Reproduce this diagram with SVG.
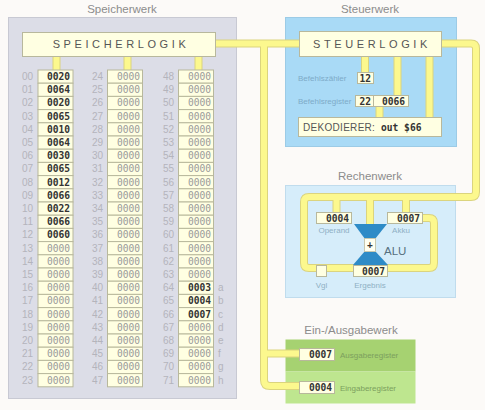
<svg xmlns="http://www.w3.org/2000/svg" xmlns:xlink="http://www.w3.org/1999/xlink" width="485" height="410" viewBox="0 0 485 410">
<style>
.title{font-family:"Liberation Sans",Arial,sans-serif;font-size:11.5px;fill:#8c8c8c;text-anchor:middle}
.logic{font-family:"Liberation Sans",Arial,sans-serif;font-size:11px;fill:#555;letter-spacing:3.6px;text-anchor:middle}
.box{fill:#ffffe2;stroke:#b8b89c;stroke-width:1}
.a{font-family:"Liberation Sans",Arial,sans-serif;font-size:10px;fill:#b4b4bc;text-anchor:end}
.l{font-family:"Liberation Sans",Arial,sans-serif;font-size:10px;fill:#b4b4bc}
.v{font-family:"DejaVu Sans Mono","Liberation Mono",monospace;font-size:9.6px;fill:#9a9a9a;text-anchor:end}
.b{fill:#333;font-weight:bold}
.m{font-family:"DejaVu Sans Mono","Liberation Mono",monospace;font-size:9.6px;fill:#333;font-weight:bold;text-anchor:end}
.sl{font-family:"Liberation Sans",Arial,sans-serif;font-size:8px;fill:#7eaac8}
.rl{font-family:"Liberation Sans",Arial,sans-serif;font-size:8px;fill:#8fb0c4;text-anchor:middle}
.gl{font-family:"Liberation Sans",Arial,sans-serif;font-size:8px;fill:#7c9f5e}
.po{fill:none;stroke:#dbd47e;stroke-width:8;stroke-linejoin:round}
.pi{fill:none;stroke:#fcf88e;stroke-width:6;stroke-linejoin:round}
</style>
<defs>
<g id="pipes">
<path d="M216 43.5H299"/>
<path d="M264 43.5V380Q264 386 270 386H299M264 353.5H299"/>
<path d="M442 43.5H471Q476 43.5 476 48.5V192Q476 197 471 197H309Q304 197 304 202V263Q304 268 309 268H429Q434 268 434 263V223Q434 218 429 218H423"/>
<path d="M336.5 197V212M370 197V240M406 197V212"/>
<path d="M56.5 57V70M127.5 57V70M198.5 57V70"/>
<path d="M365 57V72M397.5 57V95M379.5 106V117M429.5 57V117"/>
</g>
</defs>
<rect width="485" height="410" fill="#fcfaf8"/>
<g id="panels">
<rect x="8.5" y="17.5" width="228" height="381" fill="#dcdde7" stroke="#c8c9d3"/>
<rect x="285.5" y="17.5" width="171" height="129" fill="#a9daf6" stroke="#9ccbe6"/>
<rect x="285.5" y="185.5" width="170" height="112" fill="#d6edfa" stroke="#c0dced"/>
<rect x="285.5" y="339.5" width="130" height="32" fill="#a6d271"/>
<rect x="285.5" y="371.5" width="130" height="32" fill="#bee68f"/>
<text class="title" x="122" y="13">Speicherwerk</text>
<text class="title" x="370" y="13">Steuerwerk</text>
<text class="title" x="370" y="180">Rechenwerk</text>
<text class="title" x="351" y="334">Ein-/Ausgabewerk</text>
</g>
<g id="connectors">
<use xlink:href="#pipes" class="po"/>
<use xlink:href="#pipes" class="pi"/>
</g>
<g id="speicherlogik">
<rect class="box" x="22.5" y="32.5" width="193" height="24"/>
<text class="logic" x="121" y="48">SPEICHERLOGIK</text>
</g>
<g id="speicher">
<g transform="translate(0,70)"><text class="a" x="33" y="10">00</text><rect class="box" x="38" width="35" height="13.2"/><text class="v b" x="70" y="10">0020</text><text class="a" x="103" y="10">24</text><rect class="box" x="107.5" width="35" height="13.2"/><text class="v" x="140" y="10">0000</text><text class="a" x="174" y="10">48</text><rect class="box" x="178.5" width="35" height="13.2"/><text class="v" x="211" y="10">0000</text></g>
<g transform="translate(0,83.2)"><text class="a" x="33" y="10">01</text><rect class="box" x="38" width="35" height="13.2"/><text class="v b" x="70" y="10">0064</text><text class="a" x="103" y="10">25</text><rect class="box" x="107.5" width="35" height="13.2"/><text class="v" x="140" y="10">0000</text><text class="a" x="174" y="10">49</text><rect class="box" x="178.5" width="35" height="13.2"/><text class="v" x="211" y="10">0000</text></g>
<g transform="translate(0,96.4)"><text class="a" x="33" y="10">02</text><rect class="box" x="38" width="35" height="13.2"/><text class="v b" x="70" y="10">0020</text><text class="a" x="103" y="10">26</text><rect class="box" x="107.5" width="35" height="13.2"/><text class="v" x="140" y="10">0000</text><text class="a" x="174" y="10">50</text><rect class="box" x="178.5" width="35" height="13.2"/><text class="v" x="211" y="10">0000</text></g>
<g transform="translate(0,109.6)"><text class="a" x="33" y="10">03</text><rect class="box" x="38" width="35" height="13.2"/><text class="v b" x="70" y="10">0065</text><text class="a" x="103" y="10">27</text><rect class="box" x="107.5" width="35" height="13.2"/><text class="v" x="140" y="10">0000</text><text class="a" x="174" y="10">51</text><rect class="box" x="178.5" width="35" height="13.2"/><text class="v" x="211" y="10">0000</text></g>
<g transform="translate(0,122.8)"><text class="a" x="33" y="10">04</text><rect class="box" x="38" width="35" height="13.2"/><text class="v b" x="70" y="10">0010</text><text class="a" x="103" y="10">28</text><rect class="box" x="107.5" width="35" height="13.2"/><text class="v" x="140" y="10">0000</text><text class="a" x="174" y="10">52</text><rect class="box" x="178.5" width="35" height="13.2"/><text class="v" x="211" y="10">0000</text></g>
<g transform="translate(0,136)"><text class="a" x="33" y="10">05</text><rect class="box" x="38" width="35" height="13.2"/><text class="v b" x="70" y="10">0064</text><text class="a" x="103" y="10">29</text><rect class="box" x="107.5" width="35" height="13.2"/><text class="v" x="140" y="10">0000</text><text class="a" x="174" y="10">53</text><rect class="box" x="178.5" width="35" height="13.2"/><text class="v" x="211" y="10">0000</text></g>
<g transform="translate(0,149.2)"><text class="a" x="33" y="10">06</text><rect class="box" x="38" width="35" height="13.2"/><text class="v b" x="70" y="10">0030</text><text class="a" x="103" y="10">30</text><rect class="box" x="107.5" width="35" height="13.2"/><text class="v" x="140" y="10">0000</text><text class="a" x="174" y="10">54</text><rect class="box" x="178.5" width="35" height="13.2"/><text class="v" x="211" y="10">0000</text></g>
<g transform="translate(0,162.4)"><text class="a" x="33" y="10">07</text><rect class="box" x="38" width="35" height="13.2"/><text class="v b" x="70" y="10">0065</text><text class="a" x="103" y="10">31</text><rect class="box" x="107.5" width="35" height="13.2"/><text class="v" x="140" y="10">0000</text><text class="a" x="174" y="10">55</text><rect class="box" x="178.5" width="35" height="13.2"/><text class="v" x="211" y="10">0000</text></g>
<g transform="translate(0,175.6)"><text class="a" x="33" y="10">08</text><rect class="box" x="38" width="35" height="13.2"/><text class="v b" x="70" y="10">0012</text><text class="a" x="103" y="10">32</text><rect class="box" x="107.5" width="35" height="13.2"/><text class="v" x="140" y="10">0000</text><text class="a" x="174" y="10">56</text><rect class="box" x="178.5" width="35" height="13.2"/><text class="v" x="211" y="10">0000</text></g>
<g transform="translate(0,188.8)"><text class="a" x="33" y="10">09</text><rect class="box" x="38" width="35" height="13.2"/><text class="v b" x="70" y="10">0066</text><text class="a" x="103" y="10">33</text><rect class="box" x="107.5" width="35" height="13.2"/><text class="v" x="140" y="10">0000</text><text class="a" x="174" y="10">57</text><rect class="box" x="178.5" width="35" height="13.2"/><text class="v" x="211" y="10">0000</text></g>
<g transform="translate(0,202)"><text class="a" x="33" y="10">10</text><rect class="box" x="38" width="35" height="13.2"/><text class="v b" x="70" y="10">0022</text><text class="a" x="103" y="10">34</text><rect class="box" x="107.5" width="35" height="13.2"/><text class="v" x="140" y="10">0000</text><text class="a" x="174" y="10">58</text><rect class="box" x="178.5" width="35" height="13.2"/><text class="v" x="211" y="10">0000</text></g>
<g transform="translate(0,215.2)"><text class="a" x="33" y="10">11</text><rect class="box" x="38" width="35" height="13.2"/><text class="v b" x="70" y="10">0066</text><text class="a" x="103" y="10">35</text><rect class="box" x="107.5" width="35" height="13.2"/><text class="v" x="140" y="10">0000</text><text class="a" x="174" y="10">59</text><rect class="box" x="178.5" width="35" height="13.2"/><text class="v" x="211" y="10">0000</text></g>
<g transform="translate(0,228.4)"><text class="a" x="33" y="10">12</text><rect class="box" x="38" width="35" height="13.2"/><text class="v b" x="70" y="10">0060</text><text class="a" x="103" y="10">36</text><rect class="box" x="107.5" width="35" height="13.2"/><text class="v" x="140" y="10">0000</text><text class="a" x="174" y="10">60</text><rect class="box" x="178.5" width="35" height="13.2"/><text class="v" x="211" y="10">0000</text></g>
<g transform="translate(0,241.6)"><text class="a" x="33" y="10">13</text><rect class="box" x="38" width="35" height="13.2"/><text class="v" x="70" y="10">0000</text><text class="a" x="103" y="10">37</text><rect class="box" x="107.5" width="35" height="13.2"/><text class="v" x="140" y="10">0000</text><text class="a" x="174" y="10">61</text><rect class="box" x="178.5" width="35" height="13.2"/><text class="v" x="211" y="10">0000</text></g>
<g transform="translate(0,254.8)"><text class="a" x="33" y="10">14</text><rect class="box" x="38" width="35" height="13.2"/><text class="v" x="70" y="10">0000</text><text class="a" x="103" y="10">38</text><rect class="box" x="107.5" width="35" height="13.2"/><text class="v" x="140" y="10">0000</text><text class="a" x="174" y="10">62</text><rect class="box" x="178.5" width="35" height="13.2"/><text class="v" x="211" y="10">0000</text></g>
<g transform="translate(0,268)"><text class="a" x="33" y="10">15</text><rect class="box" x="38" width="35" height="13.2"/><text class="v" x="70" y="10">0000</text><text class="a" x="103" y="10">39</text><rect class="box" x="107.5" width="35" height="13.2"/><text class="v" x="140" y="10">0000</text><text class="a" x="174" y="10">63</text><rect class="box" x="178.5" width="35" height="13.2"/><text class="v" x="211" y="10">0000</text></g>
<g transform="translate(0,281.2)"><text class="a" x="33" y="10">16</text><rect class="box" x="38" width="35" height="13.2"/><text class="v" x="70" y="10">0000</text><text class="a" x="103" y="10">40</text><rect class="box" x="107.5" width="35" height="13.2"/><text class="v" x="140" y="10">0000</text><text class="a" x="174" y="10">64</text><rect class="box" x="178.5" width="35" height="13.2"/><text class="v b" x="211" y="10">0003</text><text class="l" x="218" y="10">a</text></g>
<g transform="translate(0,294.4)"><text class="a" x="33" y="10">17</text><rect class="box" x="38" width="35" height="13.2"/><text class="v" x="70" y="10">0000</text><text class="a" x="103" y="10">41</text><rect class="box" x="107.5" width="35" height="13.2"/><text class="v" x="140" y="10">0000</text><text class="a" x="174" y="10">65</text><rect class="box" x="178.5" width="35" height="13.2"/><text class="v b" x="211" y="10">0004</text><text class="l" x="218" y="10">b</text></g>
<g transform="translate(0,307.6)"><text class="a" x="33" y="10">18</text><rect class="box" x="38" width="35" height="13.2"/><text class="v" x="70" y="10">0000</text><text class="a" x="103" y="10">42</text><rect class="box" x="107.5" width="35" height="13.2"/><text class="v" x="140" y="10">0000</text><text class="a" x="174" y="10">66</text><rect class="box" x="178.5" width="35" height="13.2"/><text class="v b" x="211" y="10">0007</text><text class="l" x="218" y="10">c</text></g>
<g transform="translate(0,320.8)"><text class="a" x="33" y="10">19</text><rect class="box" x="38" width="35" height="13.2"/><text class="v" x="70" y="10">0000</text><text class="a" x="103" y="10">43</text><rect class="box" x="107.5" width="35" height="13.2"/><text class="v" x="140" y="10">0000</text><text class="a" x="174" y="10">67</text><rect class="box" x="178.5" width="35" height="13.2"/><text class="v" x="211" y="10">0000</text><text class="l" x="218" y="10">d</text></g>
<g transform="translate(0,334)"><text class="a" x="33" y="10">20</text><rect class="box" x="38" width="35" height="13.2"/><text class="v" x="70" y="10">0000</text><text class="a" x="103" y="10">44</text><rect class="box" x="107.5" width="35" height="13.2"/><text class="v" x="140" y="10">0000</text><text class="a" x="174" y="10">68</text><rect class="box" x="178.5" width="35" height="13.2"/><text class="v" x="211" y="10">0000</text><text class="l" x="218" y="10">e</text></g>
<g transform="translate(0,347.2)"><text class="a" x="33" y="10">21</text><rect class="box" x="38" width="35" height="13.2"/><text class="v" x="70" y="10">0000</text><text class="a" x="103" y="10">45</text><rect class="box" x="107.5" width="35" height="13.2"/><text class="v" x="140" y="10">0000</text><text class="a" x="174" y="10">69</text><rect class="box" x="178.5" width="35" height="13.2"/><text class="v" x="211" y="10">0000</text><text class="l" x="218" y="10">f</text></g>
<g transform="translate(0,360.4)"><text class="a" x="33" y="10">22</text><rect class="box" x="38" width="35" height="13.2"/><text class="v" x="70" y="10">0000</text><text class="a" x="103" y="10">46</text><rect class="box" x="107.5" width="35" height="13.2"/><text class="v" x="140" y="10">0000</text><text class="a" x="174" y="10">70</text><rect class="box" x="178.5" width="35" height="13.2"/><text class="v" x="211" y="10">0000</text><text class="l" x="218" y="10">g</text></g>
<g transform="translate(0,373.6)"><text class="a" x="33" y="10">23</text><rect class="box" x="38" width="35" height="13.2"/><text class="v" x="70" y="10">0000</text><text class="a" x="103" y="10">47</text><rect class="box" x="107.5" width="35" height="13.2"/><text class="v" x="140" y="10">0000</text><text class="a" x="174" y="10">71</text><rect class="box" x="178.5" width="35" height="13.2"/><text class="v" x="211" y="10">0000</text><text class="l" x="218" y="10">h</text></g>
</g>
<g id="steuerlogik">
<rect class="box" x="299.5" y="31.5" width="142" height="25"/>
<text class="logic" x="372" y="47.5">STEUERLOGIK</text>
</g>
<g id="befehlszaehler">
<text class="sl" x="298" y="81">Befehlszähler</text>
<rect class="box" x="357.5" y="72.5" width="16" height="11"/>
<text class="m" x="371" y="81.5">12</text>
</g>
<g id="befehlsregister">
<text class="sl" x="298" y="103.5">Befehlsregister</text>
<rect class="box" x="355.5" y="95.5" width="18" height="11"/>
<text class="m" x="371" y="104.5">22</text>
<rect class="box" x="373.5" y="95.5" width="35" height="11"/>
<text class="m" x="405" y="104.5">0066</text>
</g>
<g id="dekodierer">
<rect class="box" x="298.5" y="117.5" width="143" height="19"/>
<text x="303" y="131" font-family="'Liberation Sans',Arial,sans-serif" font-size="10" fill="#555" letter-spacing="0.3">DEKODIERER:</text>
<text x="381" y="130.5" font-family="'DejaVu Sans Mono','Liberation Mono',monospace" font-size="9.6" font-weight="bold" fill="#333">out $66</text>
</g>
<g id="operand">
<rect class="box" x="316.5" y="212.5" width="35" height="11"/>
<text class="m" x="349" y="221.5">0004</text>
<text class="rl" x="334" y="233">Operand</text>
</g>
<g id="akku">
<rect class="box" x="387.5" y="212.5" width="35" height="11"/>
<text class="m" x="420" y="221.5">0007</text>
<text class="rl" x="401" y="233">Akku</text>
</g>
<g id="alu">
<polygon points="354,224 387,224 375,239 365,239" fill="#2e8bc7"/>
<polygon points="365,251 375,251 388,265 353,265" fill="#2e8bc7"/>
<rect x="364.5" y="238.5" width="11" height="13" fill="#fffff0" stroke="#c8c8b0"/>
<text x="370" y="248.5" font-family="'Liberation Sans',Arial,sans-serif" font-size="10" font-weight="bold" fill="#333" text-anchor="middle">+</text>
<text x="384" y="255" font-family="'Liberation Sans',Arial,sans-serif" font-size="11.5" fill="#56707e">ALU</text>
</g>
<g id="vgl">
<rect class="box" x="316.5" y="265.5" width="10" height="11"/>
<text class="rl" x="321.5" y="288">Vgl</text>
</g>
<g id="ergebnis">
<rect class="box" x="353.5" y="265.5" width="34" height="11"/>
<text class="m" x="385" y="274.5">0007</text>
<text class="rl" x="370" y="288">Ergebnis</text>
</g>
<g id="ausgaberegister">
<rect class="box" x="299.5" y="348.5" width="35" height="12"/>
<text class="m" x="332" y="358">0007</text>
<text class="gl" x="340" y="358">Ausgaberegister</text>
</g>
<g id="eingaberegister">
<rect class="box" x="299.5" y="381.5" width="35" height="12"/>
<text class="m" x="332" y="391">0004</text>
<text class="gl" x="340" y="391">Eingaberegister</text>
</g>
</svg>
